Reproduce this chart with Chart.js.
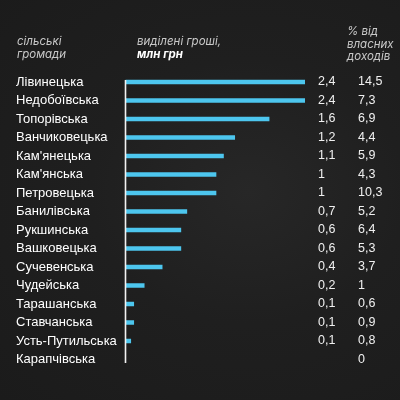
<!DOCTYPE html>
<html>
<head>
<meta charset="utf-8">
<script src="https://cdn.jsdelivr.net/npm/chart.js@4.4.0/dist/chart.umd.min.js"></script>
<style>
  html, body { margin: 0; padding: 0; background: #1c1c1c; }
  body { width: 400px; height: 400px; overflow: hidden;
    background: radial-gradient(ellipse at 62% 48%, #272727 0%, #1f1f1f 45%, #1b1b1b 100%); }
  canvas { display: block; }
</style>
</head>
<body>
<canvas id="c" width="400" height="400"></canvas>
<script>
const communities = ["Лівинецька","Недобоївська","Топорівська","Ванчиковецька","Кам'янецька","Кам'янська","Петровецька","Банилівська","Рукшинська","Вашковецька","Сучевенська","Чудейська","Тарашанська","Ставчанська","Усть-Путильська","Карапчівська"];
// bar lengths as drawn in the picture (млн грн scale)
const barValues = [2.4, 2.4, 1.92, 1.46, 1.31, 1.21, 1.21, 0.82, 0.74, 0.74, 0.49, 0.25, 0.11, 0.11, 0.07, 0];
// printed money labels
const moneyLabels = ["2,4","2,4","1,6","1,2","1,1","1","1","0,7","0,6","0,6","0,4","0,2","0,1","0,1","0,1",""];
// printed % of own revenue
const percentLabels = ["14,5","7,3","6,9","4,4","5,9","4,3","10,3","5,2","6,4","5,3","3,7","1","0,6","0,9","0,8","0"];
const headerCommunities = ["сільські","громади"];
const headerMoney = ["виділені гроші,","млн грн"];
const headerPercent = ["% від","власних","доходів"];

const overlay = {
  id: 'overlay',
  afterDraw(chart) {
    const ctx = chart.ctx;
    const y = chart.scales.y;
    ctx.save();
    // axis line
    ctx.strokeStyle = '#f2f2f2';
    ctx.lineWidth = 1.6;
    ctx.beginPath();
    ctx.moveTo(125.5, 80);
    ctx.lineTo(125.5, 363);
    ctx.stroke();
    // value columns
    ctx.font = '12.5px "Liberation Sans", Arial, sans-serif';
    ctx.fillStyle = '#f0f0f0';
    ctx.textAlign = 'left';
    ctx.textBaseline = 'middle';
    for (let i = 0; i < communities.length; i++) {
      const py = y.getPixelForValue(i);
      ctx.fillText(moneyLabels[i], 318, py);
      ctx.fillText(percentLabels[i], 358, py);
    }
    // headers
    ctx.font = 'italic 11.5px Inter, "Open Sans", sans-serif';
    ctx.fillStyle = '#c9c9c9';
    ctx.fillText(headerCommunities[0], 17, 42);
    ctx.fillText(headerCommunities[1], 17, 54.5);
    ctx.fillText(headerMoney[0], 137, 42);
    ctx.font = 'italic bold 11.5px Inter, "Open Sans", sans-serif';
    ctx.fillStyle = '#ffffff';
    ctx.fillText(headerMoney[1], 137, 54.5);
    ctx.font = 'italic 11.5px Inter, "Open Sans", sans-serif';
    ctx.fillStyle = '#c9c9c9';
    ctx.fillText(headerPercent[0], 347, 32);
    ctx.fillText(headerPercent[1], 347, 44.5);
    ctx.fillText(headerPercent[2], 347, 57);
    ctx.restore();
  }
};

new Chart(document.getElementById('c'), {
  type: 'bar',
  data: {
    labels: communities,
    datasets: [{
      data: barValues,
      backgroundColor: '#4dc6ee',
      barThickness: 4,
      borderWidth: 0
    }]
  },
  options: {
    indexAxis: 'y',
    responsive: false,
    animation: false,
    events: [],
    layout: { padding: { left: 16, top: 72.75, bottom: 31.25, right: 95 } },
    plugins: { legend: { display: false }, tooltip: { enabled: false } },
    scales: {
      x: { display: false, min: 0, max: 2.4 },
      y: {
        grid: { display: false },
        border: { display: false },
        ticks: {
          autoSkip: false,
          crossAlign: 'far',
          color: '#ffffff',
          padding: 0,
          font: { family: '"Liberation Sans", Arial, sans-serif', size: 13 }
        },
        afterFit(scale) { scale.width = 109.5; }
      }
    }
  },
  plugins: [overlay]
});
</script>
</body>
</html>
